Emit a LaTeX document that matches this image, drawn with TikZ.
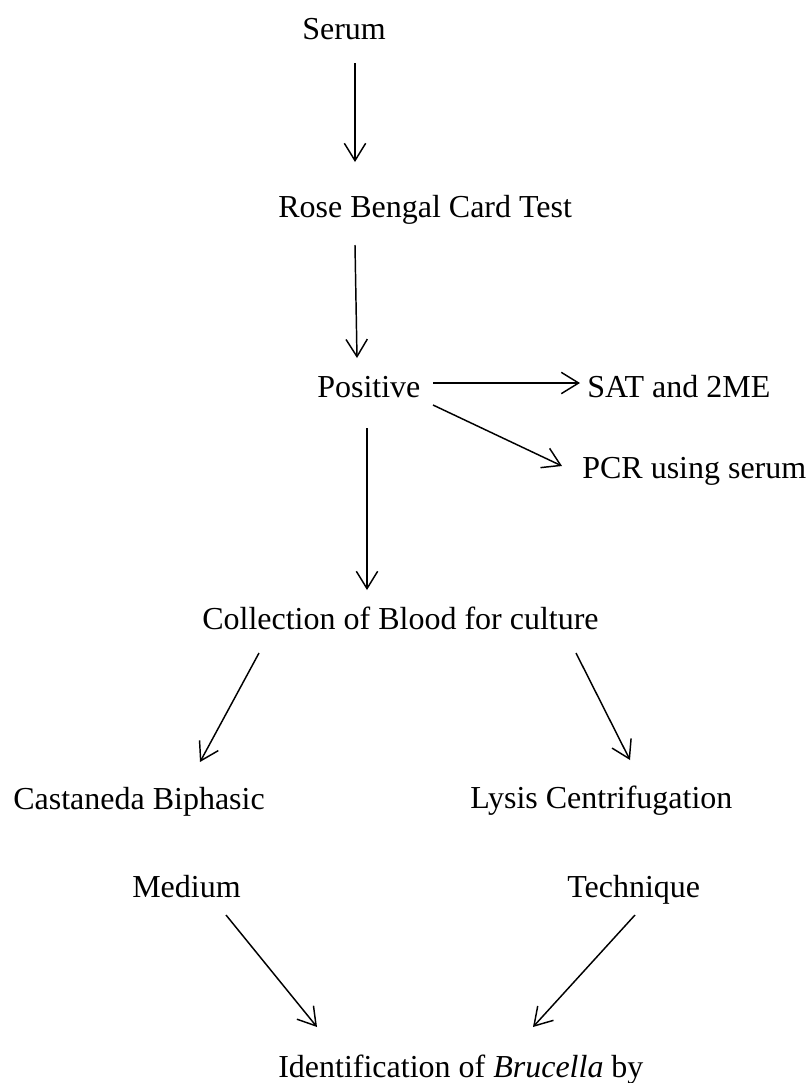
\documentclass[tikz,border=0pt]{standalone}
\usepackage{fontspec}
\setmainfont{Liberation Serif}
\usetikzlibrary{arrows.meta}
\begin{document}
\begin{tikzpicture}[x=0.75pt,y=-0.75pt,
  lbl/.style={anchor=base west,inner sep=0pt,font=\fontsize{24}{28}\selectfont},
  arr/.style={line width=1.1pt,-{Straight Barb[length=13pt,width=16pt,line width=1.1pt]}}]
\useasboundingbox (0,0) rectangle (808,1083);
% texts
\node[lbl] (serum) at (302,39) {Serum};
\node[lbl] (rose) at (278,217) {Rose Bengal Card Test};
\node[lbl] (pos) at (317,397) {Positive};
\node[lbl] (sat) at (587,397) {SAT and 2ME};
\node[lbl] (pcr) at (582,478) {PCR using serum};
\node[lbl] (coll) at (202,629) {Collection of Blood for culture};
\node[lbl] (cast) at (13,809) {Castaneda Biphasic};
\node[lbl] (med) at (132,897) {Medium};
\node[lbl] (lysis) at (470,808) {Lysis Centrifugation};
\node[lbl] (tech) at (567,897) {Technique};
\node[lbl] (ident) at (278,1077) {Identification of \textit{Brucella} by};
% arrow end points
\coordinate (a1s) at (355,63);  \coordinate (a1e) at (355,162);
\coordinate (a2s) at (355,245); \coordinate (a2e) at (357,358);
\coordinate (a3s) at (433,383); \coordinate (a3e) at (580,383);
\coordinate (a4s) at (433,405); \coordinate (a4e) at (562,466);
\coordinate (a5s) at (367,428); \coordinate (a5e) at (367,590);
\coordinate (a6s) at (259,653); \coordinate (a6e) at (200,762);
\coordinate (a7s) at (576,653); \coordinate (a7e) at (630,760);
\coordinate (a8s) at (226,915); \coordinate (a8e) at (317,1027);
\coordinate (a9s) at (635,915); \coordinate (a9e) at (533,1027);
\draw[arr] (a1s) -- (a1e);
\draw[arr] (a2s) -- (a2e);
\draw[arr] (a3s) -- (a3e);
\draw[arr] (a4s) -- (a4e);
\draw[arr] (a5s) -- (a5e);
\draw[arr] (a6s) -- (a6e);
\draw[arr] (a7s) -- (a7e);
\draw[arr] (a8s) -- (a8e);
\draw[arr] (a9s) -- (a9e);
\end{tikzpicture}
\end{document}
